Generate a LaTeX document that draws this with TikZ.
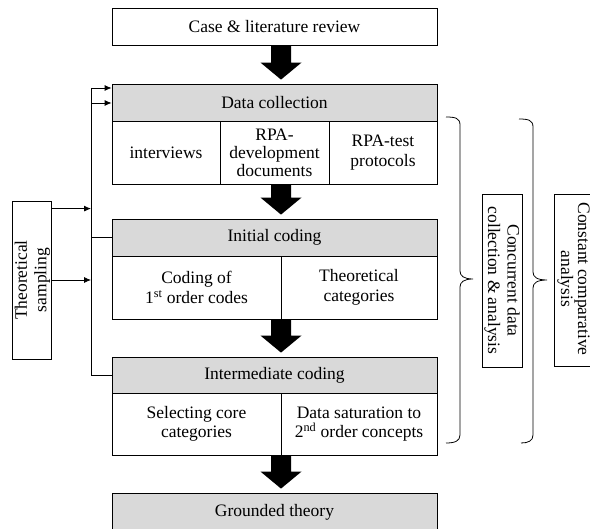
\documentclass[tikz,border=0pt]{standalone}
\usepackage{fontspec}
\setmainfont{Liberation Serif}
\usetikzlibrary{arrows.meta,calc}
\definecolor{hdgray}{HTML}{D9D9D9}
\newcommand\fatarrow[2]{%
  \fill let \p1=(#1.south -| ax), \p2=(#2.north -| ax) in
   (\x1-10pt,\y1) -- (\x1-10pt,\y2+21pt) -- (\x1-20.5pt,\y2+21pt) -- (\x1,\y2+4pt)
   -- (\x1+20.5pt,\y2+21pt) -- (\x1+10pt,\y2+21pt) -- (\x1+10pt,\y1) -- cycle;}
\begin{document}
\begin{tikzpicture}[x=1pt,y=-1pt,
  txt/.style={font=\fontsize{17.5}{19.5}\selectfont, align=center, inner sep=0pt},
  box/.style={txt, draw, line width=0.8pt},
  head/.style={box, fill=hdgray, minimum width=325pt},
  conn/.style={line width=0.8pt},
  arr/.style={conn, -{Latex[length=7pt,width=6pt]}},
  bracestyle/.style={line width=0.8pt}]
\useasboundingbox (0,0) rectangle (590,529);
\clip (0,0) rectangle (590,529);

% main column
\node[box, minimum width=325pt, minimum height=37pt] (case) at (274.5,26.5) {Case \& literature review};
\node[head, minimum height=37pt] (dc) at (274.5,102.5) {Data collection};
\node[box, minimum width=108pt, minimum height=63pt] (int) at (166,152.5) {interviews};
\node[box, minimum width=109pt, minimum height=63pt, font=\fontsize{17.5}{18}\selectfont] (dev) at (274.5,153) {RPA-\\development\\documents};
\node[box, minimum width=108pt, minimum height=63pt] (test) at (383,152.5) {RPA-test\\protocols};

\node[head, minimum height=37pt] (ic) at (274.5,237.5) {Initial coding};
\node[box, minimum width=169pt, minimum height=63pt] (c1) at (196.5,287.5) {Coding of\\1\textsuperscript{st} order codes};
\node[box, minimum width=156pt, minimum height=63pt] (c2) at (359,287.5) {Theoretical\\categories};

\node[head, minimum height=36pt] (imc) at (274.5,375) {Intermediate coding};
\node[box, minimum width=169pt, minimum height=62pt] (s1) at (196.5,424) {Selecting core\\categories};
\node[box, minimum width=156pt, minimum height=62pt] (s2) at (359,424) {Data saturation to\\2\textsuperscript{nd} order concepts};

\node[head, minimum height=39pt] (gt) at (274.5,512.5) {Grounded theory};

% fat arrows
\coordinate (ax) at (281,0);
\fatarrow{case}{dc}
\fatarrow{dev}{ic}
\fatarrow{c1}{imc}
\fatarrow{s1}{gt}

% theoretical sampling
\node[box, minimum width=39pt, minimum height=158pt] (ts) at (31.5,280) {};
\node[txt, rotate=90] (tstext) at (32.5,280) {Theoretical\\sampling};

% side boxes
\node[box, minimum width=40pt, minimum height=173pt] (conc) at (502,280.5) {};
\node[txt, rotate=-90] (conctext) at (conc) {Concurrent data\\collection \& analysis};
\node[box, minimum width=40pt, minimum height=172pt] (const) at (574,280.5) {};
\node[txt, rotate=-90, font=\fontsize{17.5}{12.5}\selectfont] (consttext) at (573.5,279) {Constant comparative\\analysis};

% feedback connectors
\coordinate (sTop) at (91,88);
\coordinate (sMid) at (91,103);
\coordinate (sBot) at (91,375);
\draw[conn] (sTop) -- (sBot);
\draw[arr] (sTop) -- (sTop -| dc.west);
\draw[arr] (sMid) -- (sMid -| dc.west);
\draw[conn] (ic.west) -- (ic.west -| sTop);
\draw[conn] (imc.west) -- (imc.west -| sTop);
\draw[arr] ([yshift=-8pt]ts.north east) -- ([yshift=-8pt]ts.north east -| sTop);
\draw[arr] (ts.east) -- (ts.east -| sTop);

% braces
\draw[bracestyle] (446,117) .. controls (455,117) and (460,118) .. (460,125) -- (460,271)
  .. controls (460,276) and (464,279) .. (473,279)
  .. controls (464,279) and (460,282) .. (460,287) -- (460,435)
  .. controls (460,441) and (455,443) .. (446,443);
\draw[bracestyle] (519,119) .. controls (528,119) and (533,120) .. (533,127) -- (533,272)
  .. controls (533,277) and (537,280) .. (547,280)
  .. controls (537,280) and (533,283) .. (533,288) -- (533,435)
  .. controls (533,441) and (528,443) .. (521,443);
\end{tikzpicture}
\end{document}
